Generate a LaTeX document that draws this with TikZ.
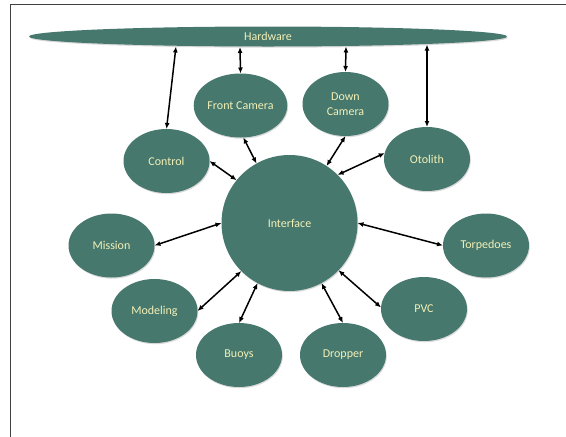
\documentclass[tikz,border=0pt]{standalone}
\usepackage{fontspec}
\setmainfont{Carlito}
\usepackage{xcolor}
\usepackage{tikz}
\usetikzlibrary{shapes.geometric,arrows.meta,shadows}

\definecolor{nodeteal}{HTML}{46786E}
\definecolor{labelcream}{HTML}{F3F0B5}

\begin{document}
\begin{tikzpicture}[
    x=1pt, y=-1pt,
    part/.style={ellipse, fill=nodeteal, text=labelcream, inner sep=0pt, outer sep=0pt,
        minimum width=86pt, minimum height=64pt, align=center,
        font=\fontsize{12}{15}\selectfont,
        drop shadow={shadow xshift=0.8pt, shadow yshift=-1.2pt, opacity=0.3}},
    link/.style={{Latex[length=6pt,width=5pt]}-{Latex[length=6pt,width=5pt]}, line width=1.5pt}
]
    \useasboundingbox (0,0) rectangle (566,437);
    % Frame
    \draw[black!75, line width=1pt] (566,4) -- (10,4) -- (10,437);

    % Nodes
    \node[part, minimum width=478pt, minimum height=20pt] (hardware) at (268,36.5) {Hardware};
    \node[part, circle, minimum size=136pt] (interface) at (289.5,223) {Interface};
    \node[part] (fcam) at (240.5,105.5) {Front Camera};
    \node[part] (dcam) at (345.5,104) {Down\\Camera};
    \node[part] (control) at (166.5,161) {Control};
    \node[part] (otolith) at (427,159) {Otolith};
    \node[part] (mission) at (111.5,245.5) {Mission};
    \node[part] (torpedoes) at (486,245.5) {Torpedoes};
    \node[part] (modeling) at (154.5,311) {Modeling};
    \node[part] (pvc) at (424,309) {PVC};
    \node[part] (buoys) at (239,355) {Buoys};
    \node[part] (dropper) at (343,355) {Dropper};

    % Points on the hardware rim
    \path (hardware.center) ++(-92,10) coordinate (hwcontrol);
    \path (hardware.center) ++(-28,10.5) coordinate (hwfcam);
    \path (hardware.center) ++(78,10) coordinate (hwdcam);
    \path (hardware.center) ++(159,8) coordinate (hwotolith);

    % Arrows to hardware
    \draw[link] (control.north) -- (hwcontrol);
    \draw[link] (fcam.north) -- (hwfcam);
    \draw[link] (dcam.north) -- (hwdcam);
    \draw[link] (otolith.north) -- (hwotolith);

    % Arrows to interface
    \draw[link] (control.east) -- (interface.141);
    \draw[link] (fcam.-85) -- (interface.119);
    \draw[link] (dcam.south) -- (interface.57);
    \draw[link] (otolith.172) -- (interface.45);
    \draw[link] (mission.east) -- (interface.180);
    \draw[link] (interface.0) -- (torpedoes.west);
    \draw[link] (modeling.east) -- (interface.225);
    \draw[link] (buoys.north) -- (interface.242.6);
    \draw[link] (dropper.north) -- (interface.298);
    \draw[link] (pvc.178) -- (interface.316);
\end{tikzpicture}
\end{document}
